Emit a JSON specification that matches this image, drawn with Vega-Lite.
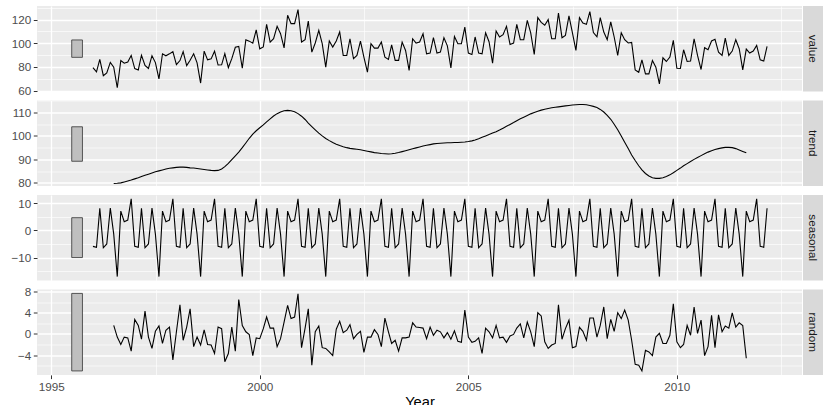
{
  "$schema": "https://vega.github.io/schema/vega-lite/v6.json",
  "padding": {"left": 0, "top": 6, "right": 0, "bottom": 0},
  "bounds": "flush",
  "columns": 2,
  "spacing": {"row": 8.5, "column": 1},
  "config": {
    "font": "Liberation Sans",
    "view": {"stroke": null, "fill": "#EBEBEB"},
    "axis": {"domain": false, "labelColor": "#4D4D4D", "labelFontSize": 11.7, "tickColor": "#333333", "tickSize": 3.7, "tickWidth": 1, "tickCount": 60, "gridColor": "#FFFFFF", "gridOpacity": 1, "labelPadding": 2.5, "labelOverlap": false, "labelFlush": false},
    "axisY": {"minExtent": 37, "maxExtent": 37, "format": "d"}
  },
  "datasets": {
    "ts": [
      {"d":"1996-01","value":79.35,"seasonal":-5.9},
      {"d":"1996-02","value":75.78,"seasonal":-6.2},
      {"d":"1996-03","value":86.32,"seasonal":8.1},
      {"d":"1996-04","value":72.60,"seasonal":-6.4},
      {"d":"1996-05","value":74.86,"seasonal":-5.0},
      {"d":"1996-06","value":83.81,"seasonal":8.2},
      {"d":"1996-07","value":79.80,"seasonal":-1.4,"trend":79.7,"random":1.6},
      {"d":"1996-08","value":62.41,"seasonal":-17.0,"trend":79.8,"random":-0.6},
      {"d":"1996-09","value":85.41,"seasonal":7.1,"trend":80.0,"random":-2.0},
      {"d":"1996-10","value":83.11,"seasonal":3.2,"trend":80.4,"random":-0.6},
      {"d":"1996-11","value":84.21,"seasonal":3.8,"trend":80.8,"random":-0.75},
      {"d":"1996-12","value":89.70,"seasonal":11.6,"trend":81.2,"random":-3.25},
      {"d":"1997-01","value":78.64,"seasonal":-5.9,"trend":81.7,"random":2.75},
      {"d":"1997-02","value":77.42,"seasonal":-6.2,"trend":82.2,"random":1.6},
      {"d":"1997-03","value":89.86,"seasonal":8.1,"trend":82.7,"random":-1.0},
      {"d":"1997-04","value":81.27,"seasonal":-6.4,"trend":83.2,"random":4.3},
      {"d":"1997-05","value":78.68,"seasonal":-5.0,"trend":83.7,"random":-0.6},
      {"d":"1997-06","value":89.51,"seasonal":8.2,"trend":84.2,"random":-2.75},
      {"d":"1997-07","value":83.67,"seasonal":-1.4,"trend":84.7,"random":0.5},
      {"d":"1997-08","value":69.80,"seasonal":-17.0,"trend":85.1,"random":1.5},
      {"d":"1997-09","value":91.09,"seasonal":7.1,"trend":85.5,"random":-1.8},
      {"d":"1997-10","value":89.43,"seasonal":3.2,"trend":85.9,"random":0.7},
      {"d":"1997-11","value":91.04,"seasonal":3.8,"trend":86.2,"random":1.3},
      {"d":"1997-12","value":92.87,"seasonal":11.6,"trend":86.4,"random":-4.9},
      {"d":"1998-01","value":81.87,"seasonal":-5.9,"trend":86.6,"random":0.4},
      {"d":"1998-02","value":85.36,"seasonal":-6.2,"trend":86.7,"random":5.5},
      {"d":"1998-03","value":92.98,"seasonal":8.1,"trend":86.7,"random":-1.2},
      {"d":"1998-04","value":81.09,"seasonal":-6.4,"trend":86.6,"random":1.3},
      {"d":"1998-05","value":85.64,"seasonal":-5.0,"trend":86.4,"random":4.75},
      {"d":"1998-06","value":91.14,"seasonal":8.2,"trend":86.3,"random":-2.4},
      {"d":"1998-07","value":83.46,"seasonal":-1.4,"trend":86.1,"random":-0.6},
      {"d":"1998-08","value":66.37,"seasonal":-17.0,"trend":85.9,"random":-2.1},
      {"d":"1998-09","value":93.34,"seasonal":7.1,"trend":85.7,"random":0.75},
      {"d":"1998-10","value":85.93,"seasonal":3.2,"trend":85.5,"random":-2.0},
      {"d":"1998-11","value":86.81,"seasonal":3.8,"trend":85.3,"random":-2.1},
      {"d":"1998-12","value":93.30,"seasonal":11.6,"trend":85.2,"random":-3.7},
      {"d":"1999-01","value":81.59,"seasonal":-5.9,"trend":85.3,"random":1.3},
      {"d":"1999-02","value":81.77,"seasonal":-6.2,"trend":85.9,"random":1.0},
      {"d":"1999-03","value":91.24,"seasonal":8.1,"trend":86.9,"random":-5.25},
      {"d":"1999-04","value":79.45,"seasonal":-6.4,"trend":88.3,"random":-3.7},
      {"d":"1999-05","value":86.99,"seasonal":-5.0,"trend":89.9,"random":1.3},
      {"d":"1999-06","value":96.6,"seasonal":8.2,"trend":91.5,"random":-3.25},
      {"d":"1999-07","value":97.3,"seasonal":-1.4,"trend":93.1,"random":6.5},
      {"d":"1999-08","value":78.9,"seasonal":-17.0,"trend":95.0,"random":1.6},
      {"d":"1999-09","value":103.0,"seasonal":7.1,"trend":97.0,"random":0.4},
      {"d":"1999-10","value":101.8,"seasonal":3.2,"trend":99.0,"random":-0.1},
      {"d":"1999-11","value":100.1,"seasonal":3.8,"trend":100.8,"random":-4.1},
      {"d":"1999-12","value":111.3,"seasonal":11.6,"trend":102.2,"random":-0.75},
      {"d":"2000-01","value":95.3,"seasonal":-5.9,"trend":103.5,"random":-0.9},
      {"d":"2000-02","value":96.9,"seasonal":-6.2,"trend":104.7,"random":1.0},
      {"d":"2000-03","value":116.0,"seasonal":8.1,"trend":106.0,"random":3.2},
      {"d":"2000-04","value":101.0,"seasonal":-6.4,"trend":107.3,"random":1.1},
      {"d":"2000-05","value":103.8,"seasonal":-5.0,"trend":108.5,"random":1.1},
      {"d":"2000-06","value":114.3,"seasonal":8.2,"trend":109.5,"random":-2.4},
      {"d":"2000-07","value":108.1,"seasonal":-1.4,"trend":110.2,"random":-0.9},
      {"d":"2000-08","value":96.0,"seasonal":-17.0,"trend":110.7,"random":2.25},
      {"d":"2000-09","value":123.7,"seasonal":7.1,"trend":110.9,"random":5.4},
      {"d":"2000-10","value":116.6,"seasonal":3.2,"trend":110.7,"random":2.9},
      {"d":"2000-11","value":116.6,"seasonal":3.8,"trend":110.3,"random":3.2},
      {"d":"2000-12","value":128.5,"seasonal":11.6,"trend":109.5,"random":7.6},
      {"d":"2001-01","value":101.0,"seasonal":-5.9,"trend":108.4,"random":-2.6},
      {"d":"2001-02","value":103.0,"seasonal":-6.2,"trend":107.0,"random":1.1},
      {"d":"2001-03","value":118.8,"seasonal":8.1,"trend":105.5,"random":4.75},
      {"d":"2001-04","value":92.5,"seasonal":-6.4,"trend":104.0,"random":-5.9},
      {"d":"2001-05","value":100.2,"seasonal":-5.0,"trend":102.6,"random":0.4},
      {"d":"2001-06","value":110.9,"seasonal":8.2,"trend":101.2,"random":1.5},
      {"d":"2001-07","value":99.6,"seasonal":-1.4,"trend":100.0,"random":-2.6},
      {"d":"2001-08","value":79.8,"seasonal":-17.0,"trend":98.9,"random":-2.75},
      {"d":"2001-09","value":101.9,"seasonal":7.1,"trend":98.0,"random":-3.4},
      {"d":"2001-10","value":96.8,"seasonal":3.2,"trend":97.2,"random":-4.1},
      {"d":"2001-11","value":101.9,"seasonal":3.8,"trend":96.5,"random":0.9},
      {"d":"2001-12","value":109.5,"seasonal":11.6,"trend":95.9,"random":2.4},
      {"d":"2002-01","value":89.7,"seasonal":-5.9,"trend":95.4,"random":0.25},
      {"d":"2002-02","value":89.7,"seasonal":-6.2,"trend":95.0,"random":0.7},
      {"d":"2002-03","value":103.8,"seasonal":8.1,"trend":94.7,"random":1.75},
      {"d":"2002-04","value":86.9,"seasonal":-6.4,"trend":94.5,"random":-0.9},
      {"d":"2002-05","value":89.7,"seasonal":-5.0,"trend":94.3,"random":-0.1},
      {"d":"2002-06","value":101.9,"seasonal":8.2,"trend":94.1,"random":0.5},
      {"d":"2002-07","value":88.3,"seasonal":-1.4,"trend":93.8,"random":-3.5},
      {"d":"2002-08","value":75.5,"seasonal":-17.0,"trend":93.5,"random":-0.6},
      {"d":"2002-09","value":99.6,"seasonal":7.1,"trend":93.2,"random":-0.6},
      {"d":"2002-10","value":95.9,"seasonal":3.2,"trend":92.9,"random":0.8},
      {"d":"2002-11","value":95.9,"seasonal":3.8,"trend":92.7,"random":-0.1},
      {"d":"2002-12","value":101.0,"seasonal":11.6,"trend":92.5,"random":-2.4},
      {"d":"2003-01","value":88.3,"seasonal":-5.9,"trend":92.4,"random":3.0},
      {"d":"2003-02","value":86.3,"seasonal":-6.2,"trend":92.3,"random":0.4},
      {"d":"2003-03","value":98.7,"seasonal":8.1,"trend":92.4,"random":-1.8},
      {"d":"2003-04","value":85.5,"seasonal":-6.4,"trend":92.6,"random":-1.2},
      {"d":"2003-05","value":85.5,"seasonal":-5.0,"trend":92.9,"random":-3.25},
      {"d":"2003-06","value":101.0,"seasonal":8.2,"trend":93.3,"random":-0.75},
      {"d":"2003-07","value":93.9,"seasonal":-1.4,"trend":93.7,"random":-0.75},
      {"d":"2003-08","value":77.0,"seasonal":-17.0,"trend":94.1,"random":-0.6},
      {"d":"2003-09","value":103.8,"seasonal":7.1,"trend":94.5,"random":2.1},
      {"d":"2003-10","value":100.2,"seasonal":3.2,"trend":94.9,"random":1.3},
      {"d":"2003-11","value":101.0,"seasonal":3.8,"trend":95.3,"random":1.2},
      {"d":"2003-12","value":108.1,"seasonal":11.6,"trend":95.7,"random":1.1},
      {"d":"2004-01","value":91.1,"seasonal":-5.9,"trend":96.0,"random":-0.9},
      {"d":"2004-02","value":91.7,"seasonal":-6.2,"trend":96.3,"random":1.3},
      {"d":"2004-03","value":104.7,"seasonal":8.1,"trend":96.6,"random":-0.25},
      {"d":"2004-04","value":91.7,"seasonal":-6.4,"trend":96.8,"random":0.7},
      {"d":"2004-05","value":92.5,"seasonal":-5.0,"trend":96.9,"random":0.4},
      {"d":"2004-06","value":104.7,"seasonal":8.2,"trend":97.0,"random":-0.75},
      {"d":"2004-07","value":97.8,"seasonal":-1.4,"trend":97.1,"random":0.25},
      {"d":"2004-08","value":79.2,"seasonal":-17.0,"trend":97.1,"random":-1.0},
      {"d":"2004-09","value":105.8,"seasonal":7.1,"trend":97.2,"random":0.6},
      {"d":"2004-10","value":99.6,"seasonal":3.2,"trend":97.2,"random":-1.4},
      {"d":"2004-11","value":99.6,"seasonal":3.8,"trend":97.3,"random":-1.6},
      {"d":"2004-12","value":113.7,"seasonal":11.6,"trend":97.4,"random":4.5},
      {"d":"2005-01","value":91.7,"seasonal":-5.9,"trend":97.6,"random":-0.6},
      {"d":"2005-02","value":90.5,"seasonal":-6.2,"trend":97.9,"random":-1.6},
      {"d":"2005-03","value":105.3,"seasonal":8.1,"trend":98.3,"random":-1.4},
      {"d":"2005-04","value":91.7,"seasonal":-6.4,"trend":98.8,"random":-0.75},
      {"d":"2005-05","value":91.1,"seasonal":-5.0,"trend":99.4,"random":-3.7},
      {"d":"2005-06","value":108.9,"seasonal":8.2,"trend":100.0,"random":1.1},
      {"d":"2005-07","value":101.3,"seasonal":-1.4,"trend":100.6,"random":0.4},
      {"d":"2005-08","value":83.2,"seasonal":-17.0,"trend":101.2,"random":-0.75},
      {"d":"2005-09","value":110.4,"seasonal":7.1,"trend":101.8,"random":1.6},
      {"d":"2005-10","value":105.3,"seasonal":3.2,"trend":102.5,"random":-0.75},
      {"d":"2005-11","value":107.2,"seasonal":3.8,"trend":103.3,"random":-0.6},
      {"d":"2005-12","value":114.3,"seasonal":11.6,"trend":104.1,"random":-1.6},
      {"d":"2006-01","value":99.0,"seasonal":-5.9,"trend":104.9,"random":-0.4},
      {"d":"2006-02","value":100.2,"seasonal":-6.2,"trend":105.7,"random":-0.1},
      {"d":"2006-03","value":116.0,"seasonal":8.1,"trend":106.5,"random":1.1},
      {"d":"2006-04","value":103.0,"seasonal":-6.4,"trend":107.3,"random":1.9},
      {"d":"2006-05","value":103.0,"seasonal":-5.0,"trend":108.0,"random":-0.75},
      {"d":"2006-06","value":119.4,"seasonal":8.2,"trend":108.7,"random":2.25},
      {"d":"2006-07","value":108.7,"seasonal":-1.4,"trend":109.4,"random":0.4},
      {"d":"2006-08","value":90.5,"seasonal":-17.0,"trend":110.0,"random":-2.4},
      {"d":"2006-09","value":121.7,"seasonal":7.1,"trend":110.5,"random":4.0},
      {"d":"2006-10","value":117.7,"seasonal":3.2,"trend":111.0,"random":3.4},
      {"d":"2006-11","value":115.2,"seasonal":3.8,"trend":111.4,"random":-1.5},
      {"d":"2006-12","value":120.0,"seasonal":11.6,"trend":111.7,"random":-2.75},
      {"d":"2007-01","value":103.8,"seasonal":-5.9,"trend":112.0,"random":-2.1},
      {"d":"2007-02","value":103.8,"seasonal":-6.2,"trend":112.2,"random":-1.8},
      {"d":"2007-03","value":125.6,"seasonal":8.1,"trend":112.4,"random":5.5},
      {"d":"2007-04","value":104.7,"seasonal":-6.4,"trend":112.6,"random":-1.0},
      {"d":"2007-05","value":106.7,"seasonal":-5.0,"trend":112.8,"random":1.0},
      {"d":"2007-06","value":123.1,"seasonal":8.2,"trend":113.0,"random":2.6},
      {"d":"2007-07","value":108.9,"seasonal":-1.4,"trend":113.2,"random":-2.6},
      {"d":"2007-08","value":93.9,"seasonal":-17.0,"trend":113.3,"random":-2.4},
      {"d":"2007-09","value":121.7,"seasonal":7.1,"trend":113.4,"random":1.25},
      {"d":"2007-10","value":117.1,"seasonal":3.2,"trend":113.4,"random":0.5},
      {"d":"2007-11","value":116.0,"seasonal":3.8,"trend":113.3,"random":-1.2},
      {"d":"2007-12","value":126.8,"seasonal":11.6,"trend":113.0,"random":3.0},
      {"d":"2008-01","value":109.0,"seasonal":-5.9,"trend":112.6,"random":3.0},
      {"d":"2008-02","value":105.5,"seasonal":-6.2,"trend":112.1,"random":-0.6},
      {"d":"2008-03","value":121.7,"seasonal":8.1,"trend":111.3,"random":1.6},
      {"d":"2008-04","value":109.5,"seasonal":-6.4,"trend":110.2,"random":5.1},
      {"d":"2008-05","value":103.0,"seasonal":-5.0,"trend":108.8,"random":-0.9},
      {"d":"2008-06","value":118.0,"seasonal":8.2,"trend":107.1,"random":2.75},
      {"d":"2008-07","value":105.3,"seasonal":-1.4,"trend":105.0,"random":0.5},
      {"d":"2008-08","value":89.7,"seasonal":-17.0,"trend":102.6,"random":4.0},
      {"d":"2008-09","value":108.9,"seasonal":7.1,"trend":100.0,"random":2.9},
      {"d":"2008-10","value":103.0,"seasonal":3.2,"trend":97.3,"random":4.5},
      {"d":"2008-11","value":100.2,"seasonal":3.8,"trend":94.6,"random":2.6},
      {"d":"2008-12","value":100.7,"seasonal":11.6,"trend":91.9,"random":-1.2},
      {"d":"2009-01","value":77.5,"seasonal":-5.9,"trend":89.5,"random":-5.75},
      {"d":"2009-02","value":75.5,"seasonal":-6.2,"trend":87.3,"random":-5.9},
      {"d":"2009-03","value":86.0,"seasonal":8.1,"trend":85.5,"random":-7.0},
      {"d":"2009-04","value":74.1,"seasonal":-6.4,"trend":84.0,"random":-3.1},
      {"d":"2009-05","value":74.1,"seasonal":-5.0,"trend":82.9,"random":-3.4},
      {"d":"2009-06","value":85.4,"seasonal":8.2,"trend":82.2,"random":-4.1},
      {"d":"2009-07","value":79.8,"seasonal":-1.4,"trend":81.9,"random":-0.6},
      {"d":"2009-08","value":65.6,"seasonal":-17.0,"trend":81.9,"random":0.1},
      {"d":"2009-09","value":87.7,"seasonal":7.1,"trend":82.2,"random":-1.8},
      {"d":"2009-10","value":84.6,"seasonal":3.2,"trend":82.7,"random":-1.8},
      {"d":"2009-11","value":88.3,"seasonal":3.8,"trend":83.4,"random":-0.25},
      {"d":"2009-12","value":102.4,"seasonal":11.6,"trend":84.3,"random":5.7},
      {"d":"2010-01","value":78.9,"seasonal":-5.9,"trend":85.3,"random":-1.5},
      {"d":"2010-02","value":78.7,"seasonal":-6.2,"trend":86.3,"random":-2.6},
      {"d":"2010-03","value":94.5,"seasonal":8.1,"trend":87.3,"random":-2.0},
      {"d":"2010-04","value":84.6,"seasonal":-6.4,"trend":88.2,"random":1.6},
      {"d":"2010-05","value":84.9,"seasonal":-5.0,"trend":89.1,"random":-0.25},
      {"d":"2010-06","value":103.8,"seasonal":8.2,"trend":90.0,"random":5.1},
      {"d":"2010-07","value":89.7,"seasonal":-1.4,"trend":90.8,"random":0.1},
      {"d":"2010-08","value":77.8,"seasonal":-17.0,"trend":91.6,"random":2.6},
      {"d":"2010-09","value":96.2,"seasonal":7.1,"trend":92.4,"random":-4.1},
      {"d":"2010-10","value":94.5,"seasonal":3.2,"trend":93.1,"random":-2.4},
      {"d":"2010-11","value":101.9,"seasonal":3.8,"trend":93.7,"random":3.5},
      {"d":"2010-12","value":103.3,"seasonal":11.6,"trend":94.2,"random":-2.6},
      {"d":"2011-01","value":92.5,"seasonal":-5.9,"trend":94.6,"random":3.6},
      {"d":"2011-02","value":89.7,"seasonal":-6.2,"trend":94.9,"random":0.4},
      {"d":"2011-03","value":104.4,"seasonal":8.1,"trend":95.1,"random":1.5},
      {"d":"2011-04","value":89.7,"seasonal":-6.4,"trend":95.1,"random":1.1},
      {"d":"2011-05","value":93.4,"seasonal":-5.0,"trend":95.0,"random":4.0},
      {"d":"2011-06","value":103.0,"seasonal":8.2,"trend":94.6,"random":1.3},
      {"d":"2011-07","value":95.4,"seasonal":-1.4,"trend":94.0,"random":2.1},
      {"d":"2011-08","value":77.5,"seasonal":-17.0,"trend":93.4,"random":1.6},
      {"d":"2011-09","value":95.1,"seasonal":7.1,"trend":92.8,"random":-4.6},
      {"d":"2011-10","value":91.7,"seasonal":3.2},
      {"d":"2011-11","value":93.4,"seasonal":3.8},
      {"d":"2011-12","value":98.2,"seasonal":11.6},
      {"d":"2012-01","value":86.0,"seasonal":-5.9},
      {"d":"2012-02","value":84.9,"seasonal":-6.2},
      {"d":"2012-03","value":97.3,"seasonal":8.1}
    ]
  },
  "concat": [
    {
      "width": 765,
      "height": 85.4,
      "layer": [
        {
          "data": {"name": "ts"},
          "mark": {"type": "line", "color": "#000000", "strokeWidth": 1.1},
          "encoding": {
            "x": {"field": "d", "type": "temporal",
              "scale": {"type": "utc", "nice": false, "domain": [{"year": 1994, "month": 8, "date": 29, "utc": true}, {"year": 2013, "month": 1, "date": 1, "utc": true}]},
              "axis": {"title": null, "labels": false, "ticks": false, "grid": true,
                "values": [{"year":1995,"month":1,"date":1,"utc":true},{"year":1997,"month":7,"date":2,"utc":true},{"year":2000,"month":1,"date":1,"utc":true},{"year":2002,"month":7,"date":2,"utc":true},{"year":2005,"month":1,"date":1,"utc":true},{"year":2007,"month":7,"date":2,"utc":true},{"year":2010,"month":1,"date":1,"utc":true},{"year":2012,"month":7,"date":2,"utc":true}],
                "gridWidth": {"condition": {"test": "utcmonth(datum.value) === 0", "value": 1.3}, "value": 0.65}}},
            "y": {"field": "value", "type": "quantitative",
              "scale": {"domain": [59.3, 131.5], "nice": false, "zero": false},
              "axis": {"title": null, "format": "d", "values": [60, 70, 80, 90, 100, 110, 120, 130],
                "labelExpr": "datum.value % 20 === 0 ? datum.label : ''",
                "labelFontSize": {"condition": {"test": "datum.value % 20 === 0", "value": 11.7}, "value": 0},
                "tickOpacity": {"condition": {"test": "datum.value % 20 === 0", "value": 1}, "value": 0},
                "gridWidth": {"condition": {"test": "datum.value % 20 === 0", "value": 1.3}, "value": 0.65}}}
          }
        },
        {
          "data": {"values": [{"x1": "1995-06-29", "x2": "1995-10-01", "lo": 88.1, "hi": 102.8}]},
          "mark": {"type": "rect", "fill": "#BFBFBF", "stroke": "#333333", "strokeWidth": 0.8},
          "encoding": {
            "x": {"field": "x1", "type": "temporal"},
            "x2": {"field": "x2"},
            "y": {"field": "lo", "type": "quantitative"},
            "y2": {"field": "hi"}
          }
        }
      ]
    },
    {
      "width": 20,
      "height": 85.4,
      "view": {"fill": "#D9D9D9", "stroke": null},
      "data": {"values": [{"label": "value"}]},
      "mark": {"type": "text", "angle": 90, "fontSize": 11.7, "color": "#1A1A1A"},
      "encoding": {"text": {"field": "label"}}
    },
    {
      "width": 765,
      "height": 85.4,
      "layer": [
        {
          "data": {"name": "ts"},
          "mark": {"type": "line", "color": "#000000", "strokeWidth": 1.1},
          "encoding": {
            "x": {"field": "d", "type": "temporal",
              "scale": {"type": "utc", "nice": false, "domain": [{"year": 1994, "month": 8, "date": 29, "utc": true}, {"year": 2013, "month": 1, "date": 1, "utc": true}]},
              "axis": {"title": null, "labels": false, "ticks": false, "grid": true,
                "values": [{"year":1995,"month":1,"date":1,"utc":true},{"year":1997,"month":7,"date":2,"utc":true},{"year":2000,"month":1,"date":1,"utc":true},{"year":2002,"month":7,"date":2,"utc":true},{"year":2005,"month":1,"date":1,"utc":true},{"year":2007,"month":7,"date":2,"utc":true},{"year":2010,"month":1,"date":1,"utc":true},{"year":2012,"month":7,"date":2,"utc":true}],
                "gridWidth": {"condition": {"test": "utcmonth(datum.value) === 0", "value": 1.3}, "value": 0.65}}},
            "y": {"field": "trend", "type": "quantitative",
              "scale": {"domain": [78.7, 115.1], "nice": false, "zero": false},
              "axis": {"title": null, "format": "d", "values": [80, 85, 90, 95, 100, 105, 110, 115],
                "labelExpr": "datum.value % 10 === 0 ? datum.label : ''",
                "labelFontSize": {"condition": {"test": "datum.value % 10 === 0", "value": 11.7}, "value": 0},
                "tickOpacity": {"condition": {"test": "datum.value % 10 === 0", "value": 1}, "value": 0},
                "gridWidth": {"condition": {"test": "datum.value % 10 === 0", "value": 1.3}, "value": 0.65}}}
          }
        },
        {
          "data": {"values": [{"x1": "1995-06-29", "x2": "1995-10-01", "lo": 89.2, "hi": 103.9}]},
          "mark": {"type": "rect", "fill": "#BFBFBF", "stroke": "#333333", "strokeWidth": 0.8},
          "encoding": {
            "x": {"field": "x1", "type": "temporal"},
            "x2": {"field": "x2"},
            "y": {"field": "lo", "type": "quantitative"},
            "y2": {"field": "hi"}
          }
        }
      ]
    },
    {
      "width": 20,
      "height": 85.4,
      "view": {"fill": "#D9D9D9", "stroke": null},
      "data": {"values": [{"label": "trend"}]},
      "mark": {"type": "text", "angle": 90, "fontSize": 11.7, "color": "#1A1A1A"},
      "encoding": {"text": {"field": "label"}}
    },
    {
      "width": 765,
      "height": 85.4,
      "layer": [
        {
          "data": {"name": "ts"},
          "mark": {"type": "line", "color": "#000000", "strokeWidth": 1.1},
          "encoding": {
            "x": {"field": "d", "type": "temporal",
              "scale": {"type": "utc", "nice": false, "domain": [{"year": 1994, "month": 8, "date": 29, "utc": true}, {"year": 2013, "month": 1, "date": 1, "utc": true}]},
              "axis": {"title": null, "labels": false, "ticks": false, "grid": true,
                "values": [{"year":1995,"month":1,"date":1,"utc":true},{"year":1997,"month":7,"date":2,"utc":true},{"year":2000,"month":1,"date":1,"utc":true},{"year":2002,"month":7,"date":2,"utc":true},{"year":2005,"month":1,"date":1,"utc":true},{"year":2007,"month":7,"date":2,"utc":true},{"year":2010,"month":1,"date":1,"utc":true},{"year":2012,"month":7,"date":2,"utc":true}],
                "gridWidth": {"condition": {"test": "utcmonth(datum.value) === 0", "value": 1.3}, "value": 0.65}}},
            "y": {"field": "seasonal", "type": "quantitative",
              "scale": {"domain": [-18.4, 13.0], "nice": false, "zero": false},
              "axis": {"title": null, "format": "d", "values": [-15, -10, -5, 0, 5, 10],
                "labelExpr": "datum.value % 10 === 0 ? datum.label : ''",
                "labelFontSize": {"condition": {"test": "datum.value % 10 === 0", "value": 11.7}, "value": 0},
                "tickOpacity": {"condition": {"test": "datum.value % 10 === 0", "value": 1}, "value": 0},
                "gridWidth": {"condition": {"test": "datum.value % 10 === 0", "value": 1.3}, "value": 0.65}}}
          }
        },
        {
          "data": {"values": [{"x1": "1995-06-29", "x2": "1995-10-01", "lo": -10.0, "hi": 4.66}]},
          "mark": {"type": "rect", "fill": "#BFBFBF", "stroke": "#333333", "strokeWidth": 0.8},
          "encoding": {
            "x": {"field": "x1", "type": "temporal"},
            "x2": {"field": "x2"},
            "y": {"field": "lo", "type": "quantitative"},
            "y2": {"field": "hi"}
          }
        }
      ]
    },
    {
      "width": 20,
      "height": 85.4,
      "view": {"fill": "#D9D9D9", "stroke": null},
      "data": {"values": [{"label": "seasonal"}]},
      "mark": {"type": "text", "angle": 90, "fontSize": 11.7, "color": "#1A1A1A"},
      "encoding": {"text": {"field": "label"}}
    },
    {
      "width": 765,
      "height": 85.4,
      "layer": [
        {
          "data": {"name": "ts"},
          "mark": {"type": "line", "color": "#000000", "strokeWidth": 1.1},
          "encoding": {
            "x": {"field": "d", "type": "temporal",
              "scale": {"type": "utc", "nice": false, "domain": [{"year": 1994, "month": 8, "date": 29, "utc": true}, {"year": 2013, "month": 1, "date": 1, "utc": true}]},
              "axis": {"title": "Year", "titleFontSize": 14.7, "titleColor": "#000000", "titleFontWeight": "normal", "titlePadding": 2,
                "labels": true, "ticks": true, "grid": true,
                "values": [{"year":1995,"month":1,"date":1,"utc":true},{"year":1997,"month":7,"date":2,"utc":true},{"year":2000,"month":1,"date":1,"utc":true},{"year":2002,"month":7,"date":2,"utc":true},{"year":2005,"month":1,"date":1,"utc":true},{"year":2007,"month":7,"date":2,"utc":true},{"year":2010,"month":1,"date":1,"utc":true},{"year":2012,"month":7,"date":2,"utc":true}],
                "labelExpr": "utcmonth(datum.value) === 0 ? utcFormat(datum.value, '%Y') : ''",
                "tickOpacity": {"condition": {"test": "utcmonth(datum.value) === 0", "value": 1}, "value": 0},
                "gridWidth": {"condition": {"test": "utcmonth(datum.value) === 0", "value": 1.3}, "value": 0.65}}},
            "y": {"field": "random", "type": "quantitative",
              "scale": {"domain": [-7.75, 8.4], "nice": false, "zero": false},
              "axis": {"title": null, "format": "d", "values": [-6, -4, -2, 0, 2, 4, 6, 8],
                "labelExpr": "datum.value % 4 === 0 ? datum.label : ''",
                "labelFontSize": {"condition": {"test": "datum.value % 4 === 0", "value": 11.7}, "value": 0},
                "tickOpacity": {"condition": {"test": "datum.value % 4 === 0", "value": 1}, "value": 0},
                "gridWidth": {"condition": {"test": "datum.value % 4 === 0", "value": 1.3}, "value": 0.65}}}
          }
        },
        {
          "data": {"values": [{"x1": "1995-06-29", "x2": "1995-10-01", "lo": -7.0, "hi": 7.66}]},
          "mark": {"type": "rect", "fill": "#BFBFBF", "stroke": "#333333", "strokeWidth": 0.8},
          "encoding": {
            "x": {"field": "x1", "type": "temporal"},
            "x2": {"field": "x2"},
            "y": {"field": "lo", "type": "quantitative"},
            "y2": {"field": "hi"}
          }
        }
      ]
    },
    {
      "width": 20,
      "height": 85.4,
      "view": {"fill": "#D9D9D9", "stroke": null},
      "data": {"values": [{"label": "random"}]},
      "mark": {"type": "text", "angle": 90, "fontSize": 11.7, "color": "#1A1A1A"},
      "encoding": {"text": {"field": "label"}}
    }
  ]
}
